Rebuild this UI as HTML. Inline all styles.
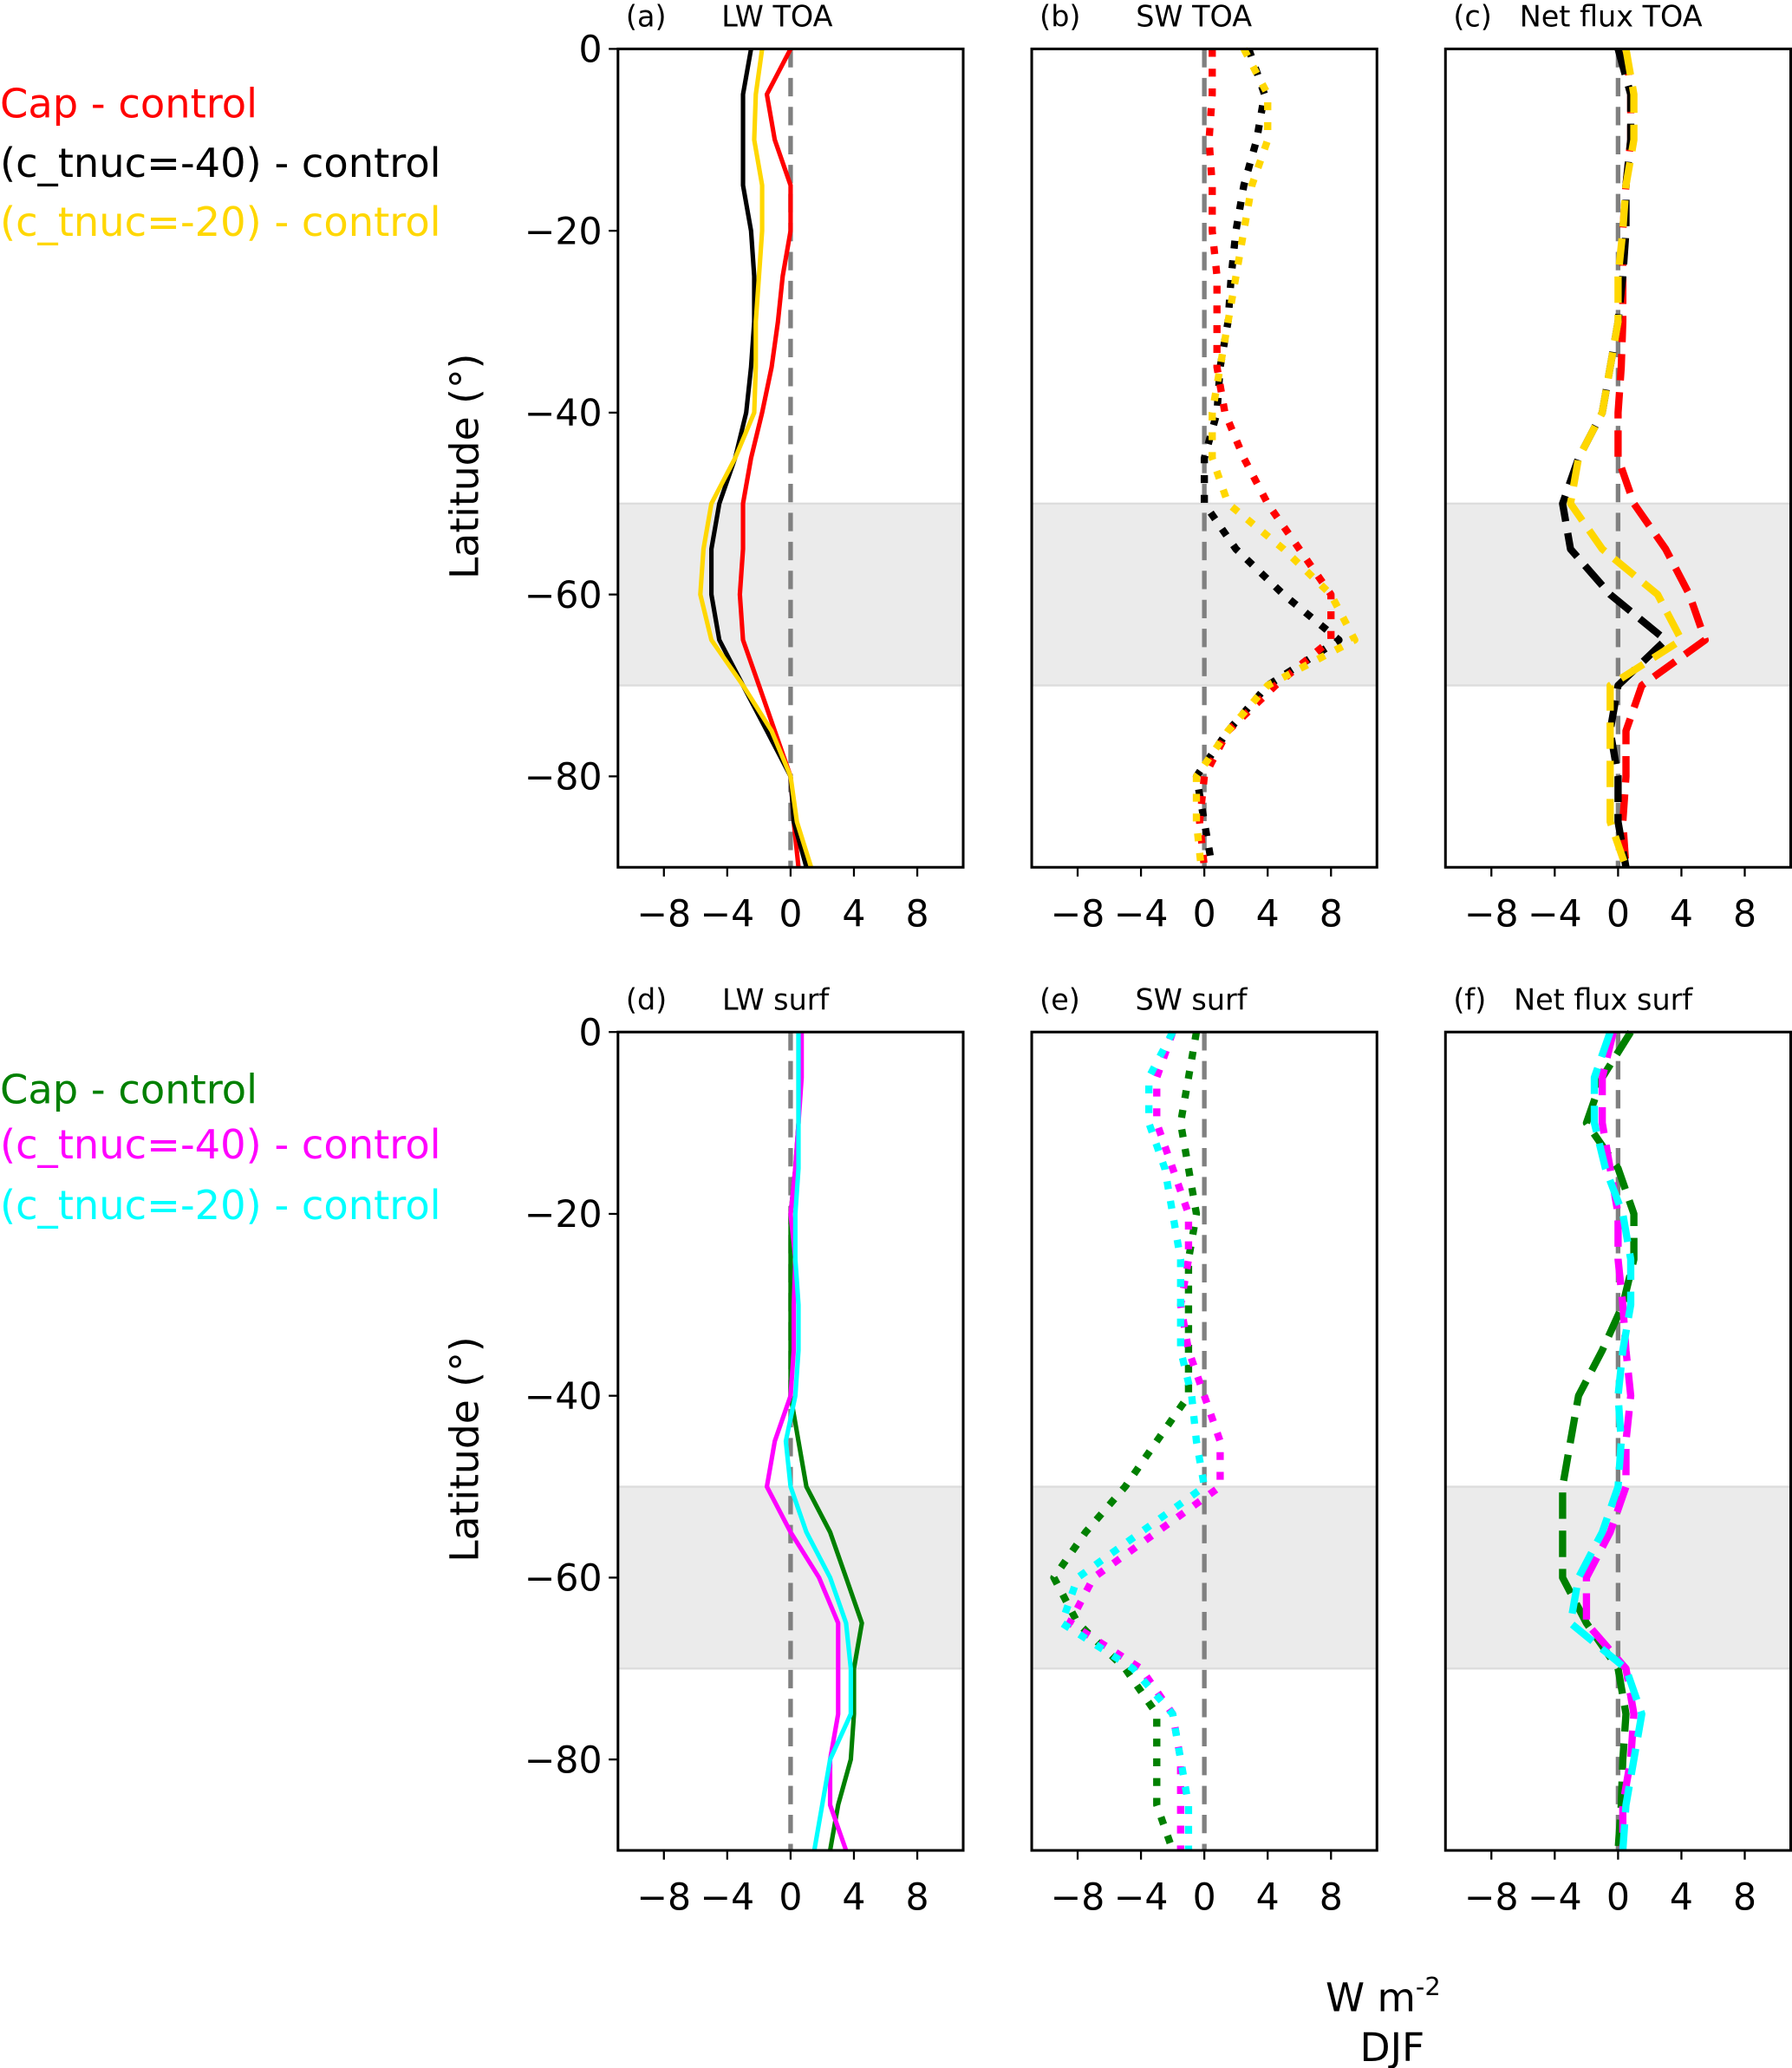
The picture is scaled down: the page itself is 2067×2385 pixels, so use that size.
<!DOCTYPE html>
<html><head><meta charset="utf-8"><style>
html,body{margin:0;padding:0;background:#fff}
svg{display:block}
text{font-family:"DejaVu Sans","Liberation Sans",sans-serif}
</style></head><body>
<svg id="fig" width="2067" height="2385" viewBox="0 0 1360 1569" xmlns="http://www.w3.org/2000/svg">
<g font-size="30.5">
<text x="0" y="89" fill="#ff0000">Cap - control</text>
<text x="0" y="134" fill="#000000">(c_tnuc=-40) - control</text>
<text x="0" y="179" fill="#ffd700">(c_tnuc=-20) - control</text>
</g>
<g font-size="30.5">
<text x="0" y="837" fill="#008000">Cap - control</text>
<text x="0" y="879" fill="#ff00ff">(c_tnuc=-40) - control</text>
<text x="0" y="925" fill="#00ffff">(c_tnuc=-20) - control</text>
</g>
<text x="1006" y="1526" font-size="30">W m<tspan font-size="19" dy="-12">-2</tspan></text>
<text x="1032" y="1564" font-size="30">DJF</text>
</svg>
<script>
const lats=[0,-5,-10,-15,-20,-25,-30,-35,-40,-45,-50,-55,-60,-65,-70,-75,-80,-85,-90];
const xTicks=[-8,-4,0,4,8];
const yTicks=[0,-20,-40,-60,-80];
const titles=["(a)      LW TOA","(b)      SW TOA","(c)   Net flux TOA","(d)      LW surf","(e)      SW surf","(f)   Net flux surf"];
const lwToaCap=[0,-1.5,-1,0,0,-0.5,-0.8,-1.2,-1.8,-2.5,-3,-3,-3.2,-3,-2,-1,0,0.2,0.5];
const lwToa40=[-2.5,-3,-3,-3,-2.5,-2.3,-2.3,-2.5,-2.8,-3.5,-4.5,-5,-5,-4.5,-3,-1.5,0,0.2,1];
const lwToa20=[-1.8,-2.2,-2.3,-1.8,-1.8,-2,-2.2,-2.2,-2.3,-3.5,-5,-5.5,-5.7,-5,-3,-1.2,0,0.4,1.3];
const swToaCap=[0.5,0.5,0.3,0.5,0.5,0.8,0.8,0.8,1.3,2.5,4,6,8,8,4.5,1.5,0,-0.3,0];
const swToa40=[2.8,3.8,3.3,2.5,2,1.7,1.5,1,0.8,0,0,2,5,8.5,4,1.5,-0.5,0,0.5];
const swToa20=[2.5,4,4,3,2.5,2,1.5,1,0.5,0.5,1.5,5,8,9.5,4,1.5,-0.5,-0.5,-0.2];
const netToaCap=[0.5,0.8,0.8,0.5,0.3,0.3,0.3,0.2,0,0,1,3,4.5,5.5,1.5,0.5,0.5,0.3,0.5];
const netToa40=[0,0.8,0.8,0.5,0.5,0.3,0,-0.5,-1,-2.5,-3.5,-3,-0.5,3,0,-0.5,0,0,0.5];
const netToa20=[0.5,1,1,0.5,0.3,0,0,-0.5,-1,-2.5,-3,-1,2.5,4,-0.5,-0.5,-0.5,-0.5,0.5];
const lwSurfCap=[0.5,0.5,0.5,0.3,0,0,0,0,0,0.5,1,2.5,3.5,4.5,4,4,3.8,3,2.5];
const lwSurf40=[0.7,0.7,0.5,0.3,0,0.3,0.2,0.2,0,-1,-1.5,0,1.8,3,3,3,2.5,2.5,3.5];
const lwSurf20=[0.5,0.5,0.5,0.5,0.3,0.3,0.5,0.5,0.3,-0.3,0,1,2.5,3.5,3.8,3.8,2.5,2,1.5];
const swSurfCap=[-0.5,-1,-1.5,-1,-0.5,-1,-1,-1,-1,-3,-5,-7.5,-9.5,-8,-5,-3,-3,-3,-2];
const swSurf40=[-2,-3,-3,-2,-1,-1,-1.5,-1,0,1,1,-3,-7,-8.5,-4,-2,-1.5,-1.5,-1.5];
const swSurf20=[-2,-3.5,-3.5,-2.5,-2,-1.5,-1.5,-1.5,-0.8,-0.5,0,-4,-8,-9,-4.5,-2,-1.5,-1,-1];
const netSurfCap=[0.8,-1,-2,0,1,1,0.3,-1,-2.5,-3,-3.5,-3.5,-3.5,-2,0,0.5,0.3,0.2,0];
const netSurf40=[-0.3,-1,-1,-0.5,0,0,0.3,0.5,0.8,0.5,0.5,-0.5,-2,-2,0.5,1,0.8,0.3,0.3];
const netSurf20=[-0.5,-1.5,-1.5,-0.8,0.3,0.8,0.8,0.3,0,0.2,0,-1,-2.5,-3,0.5,1.5,1,0.5,0.3];

const NS="http://www.w3.org/2000/svg";
const svg=document.getElementById('fig');
function el(t,a,p){const e=document.createElementNS(NS,t);for(const k in a)e.setAttribute(k,a[k]);(p||svg).appendChild(e);return e;}
const lefts=[469,783,1097], tops=[37,783], W=262, H=621;
const XMIN=-10.9,XMAX=10.9;
const styles={solid:{w:3.4,d:null},dot:{w:5.5,d:"6 9"},dash:{w:5.5,d:"20 9"}};
const panels=[
 {s:'solid',series:[[lwToaCap,'#ff0000'],[lwToa40,'#000'],[lwToa20,'#ffd700']]},
 {s:'dot',series:[[swToa40,'#000'],[swToaCap,'#ff0000'],[swToa20,'#ffd700']]},
 {s:'dash',series:[[netToaCap,'#ff0000'],[netToa40,'#000'],[netToa20,'#ffd700']]},
 {s:'solid',series:[[lwSurfCap,'#008000'],[lwSurf40,'#ff00ff'],[lwSurf20,'#00ffff']]},
 {s:'dot',series:[[swSurfCap,'#008000'],[swSurf40,'#ff00ff'],[swSurf20,'#00ffff']]},
 {s:'dash',series:[[netSurfCap,'#008000'],[netSurf40,'#ff00ff'],[netSurf20,'#00ffff']]}
];
panels.forEach((p,i)=>{
  const L=lefts[i%3],T=tops[Math.floor(i/3)];
  const xs=v=>L+(v-XMIN)/(XMAX-XMIN)*W;
  const ys=v=>T+(0-v)/90*H;
  const g=el('g',{});
  
  
  const band=el('rect',{x:L,y:ys(-50),width:W,height:ys(-70)-ys(-50),fill:'#ebebeb',stroke:'#dcdcdc','stroke-width':1.5},g);
  
  
  const zl=el('line',{x1:xs(0),x2:xs(0),y1:T,y2:T+H,stroke:'#808080','stroke-width':3.5,'stroke-dasharray':'14 8'},g);
  
  
  const st=styles[p.s];
  p.series.forEach((s,j)=>{
    const d=s[0].map((v,k)=>(k?'L':'M')+xs(v).toFixed(1)+','+ys(lats[k]).toFixed(1)).join(' ');
    const a={d:d,fill:'none',stroke:s[1],'stroke-width':st.w,'stroke-linejoin':'round'};
    if(st.d)a['stroke-dasharray']=st.d;
    const path=el('path',a,g);
    
    
  });
  const fr=el('rect',{x:L,y:T,width:W,height:H,fill:'none',stroke:'#000','stroke-width':2},g);
  
  
  xTicks.forEach(t=>{
    el('line',{x1:xs(t),x2:xs(t),y1:T+H,y2:T+H+7,stroke:'#000','stroke-width':1.5},g);
    const tx=el('text',{x:xs(t),y:T+H+45,'font-size':28,'text-anchor':'middle'},g);
    tx.textContent=(t<0?'\u2212'+(-t):t);
    
    
  });
  if(i%3===0){
    yTicks.forEach(t=>{
      el('line',{x1:L-7,x2:L,y1:ys(t),y2:ys(t),stroke:'#000','stroke-width':1.5},g);
      const ty=el('text',{x:L-12,y:ys(t)+10,'font-size':28,'text-anchor':'end'},g);
      ty.textContent=(t<0?'\u2212'+(-t):t);
      
      
    });
    const yl=el('text',{x:0,y:0,'font-size':30,'text-anchor':'middle',transform:`translate(363,${T+H*0.51}) rotate(-90)`},g);
    yl.textContent='Latitude (°)';
    
    
  }
  const tt=el('text',{x:L+6,y:T-17,'font-size':22,'xml:space':'preserve'},g);
  tt.textContent=titles[i];
  tt.style.whiteSpace='pre';
  
  
});
</script>
</body></html>
